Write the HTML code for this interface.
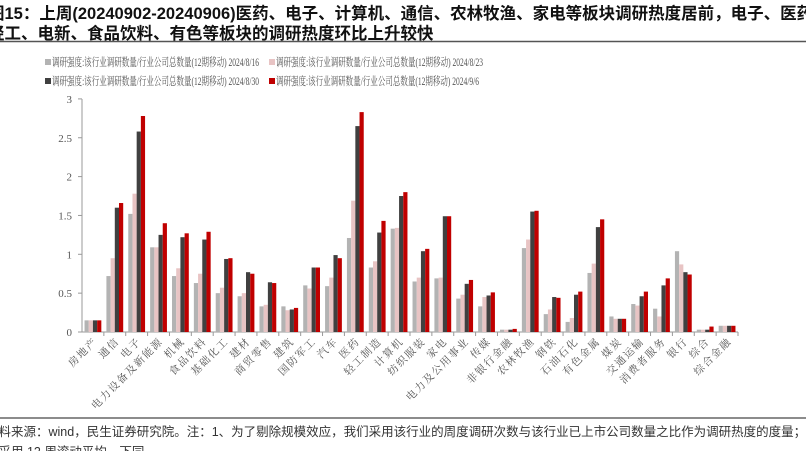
<!DOCTYPE html>
<html><head><meta charset="utf-8"><style>
body{margin:0;background:#fff;width:806px;height:451px;overflow:hidden;}
svg{display:block}
</style></head><body>
<svg width="806" height="451" xmlns="http://www.w3.org/2000/svg" id="s">
<g font-family="Liberation Sans, Noto Sans CJK SC, sans-serif" font-weight="bold" font-size="16.5" fill="#111">
<text x="-12" y="19">图15：上周(20240902-20240906)医药、电子、计算机、通信、农林牧渔、家电等板块调研热度居前，电子、医药、</text>
<text x="-12" y="39">轻工、电新、食品饮料、有色等板块的调研热度环比上升较快</text>
</g>
<line x1="0" y1="41.5" x2="806" y2="41.5" stroke="#555" stroke-width="1.5"/>
<g font-family="Liberation Serif, Noto Serif CJK SC, serif" font-size="11.5" fill="#555">
<rect x="45" y="59" width="6" height="6" fill="#b3b3b3"/><text x="52" y="66" textLength="207" lengthAdjust="spacingAndGlyphs">调研强度:该行业调研数量/行业公司总数量(12期移动) 2024/8/16</text>
<rect x="269" y="59" width="6" height="6" fill="#e8c4c4"/><text x="276" y="66" textLength="207" lengthAdjust="spacingAndGlyphs">调研强度:该行业调研数量/行业公司总数量(12期移动) 2024/8/23</text>
<rect x="45" y="78" width="6" height="6" fill="#404040"/><text x="52" y="85" textLength="207" lengthAdjust="spacingAndGlyphs">调研强度:该行业调研数量/行业公司总数量(12期移动) 2024/8/30</text>
<rect x="269" y="78" width="6" height="6" fill="#c00000"/><text x="276" y="85" textLength="203" lengthAdjust="spacingAndGlyphs">调研强度:该行业调研数量/行业公司总数量(12期移动) 2024/9/6</text>
</g>
<g id="chart"></g>
<line x1="0" y1="418" x2="806" y2="418" stroke="#666" stroke-width="1.5"/>
<g font-family="Liberation Sans, Noto Sans CJK SC, sans-serif" font-size="12.5" fill="#333">
<text x="-14" y="436">资料来源：wind，民生证券研究院。注：1、为了剔除规模效应，我们采用该行业的周度调研次数与该行业已上市公司数量之比作为调研热度的度量；2、热</text>
<text x="-14" y="456">度采用 12 周滚动平均，下同</text>
</g>
</svg>
<script>
const names=["房地产","通信","电子","电力设备及新能源","机械","食品饮料","基础化工","建材","商贸零售","建筑","国防军工","汽车","医药","轻工制造","计算机","纺织服装","家电","电力及公用事业","传媒","非银行金融","农林牧渔","钢铁","石油石化","有色金属","煤炭","交通运输","消费者服务","银行","综合","综合金融"];
const v=[[.15,.15,.15,.15],[.72,.95,1.6,1.66],[1.52,1.78,2.58,2.78],[1.09,1.09,1.25,1.4],[.72,.82,1.22,1.27],[.63,.75,1.19,1.29],[.5,.57,.94,.95],[.46,.5,.77,.75],[.33,.35,.64,.63],[.33,.28,.29,.31],[.6,.56,.83,.83],[.59,.7,.99,.95],[1.21,1.69,2.65,2.83],[.83,.91,1.28,1.43],[1.33,1.34,1.75,1.8],[.65,.7,1.04,1.07],[.69,.7,1.49,1.49],[.43,.48,.62,.67],[.33,.45,.47,.51],[.03,.03,.03,.04],[1.08,1.19,1.55,1.56],[.23,.29,.45,.44],[.13,.18,.48,.52],[.76,.88,1.35,1.45],[.2,.17,.17,.17],[.36,.34,.46,.52],[.3,.2,.6,.69],[1.04,.87,.77,.74],[.03,.03,.03,.07],[.08,.08,.08,.08]];
const cols=["#b3b3b3","#e8c4c4","#404040","#c00000"];
const x0=82,x1=738,y0=332,k=77.7,w=(x1-x0)/30;
let h='<line x1="'+x0+'" y1="99" x2="'+x0+'" y2="'+y0+'" stroke="#999"/><line x1="'+x0+'" y1="'+y0+'" x2="'+x1+'" y2="'+y0+'" stroke="#999"/>';
for(let i=0;i<=6;i++){const y=y0-i*0.5*k;h+='<line x1="'+(x0-4)+'" y1="'+y+'" x2="'+x0+'" y2="'+y+'" stroke="#999"/><text x="'+(x0-10)+'" y="'+(y+4)+'" text-anchor="end" font-family="Liberation Serif, serif" font-size="11" fill="#555">'+(i*0.5).toString()+'</text>';}
for(let i=0;i<30;i++){const c=x0+w*(i+.5);
 for(let j=0;j<4;j++){const hh=v[i][j]*k;h+='<rect x="'+(c-8.4+j*4.2)+'" y="'+(y0-hh)+'" width="4.2" height="'+hh+'" fill="'+cols[j]+'"/>';}
 const tx=x0+w*(i+1);h+='<line x1="'+tx+'" y1="'+y0+'" x2="'+tx+'" y2="'+(y0+4)+'" stroke="#999"/>';
 h+='<text transform="translate('+(c+5)+','+(y0+10)+') rotate(-45)" text-anchor="end" font-family="Liberation Serif, Noto Serif CJK SC, serif" font-size="10.5" letter-spacing="1.5" fill="#555">'+names[i]+'</text>';}
document.getElementById('chart').innerHTML=h;
</script>
</body></html>
